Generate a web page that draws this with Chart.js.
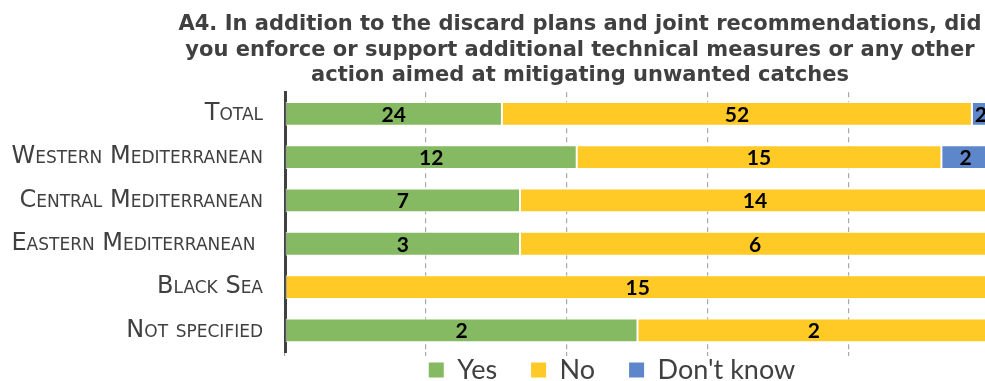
<!DOCTYPE html>
<html lang="en">
<head>
  <meta charset="UTF-8" />
  <title>A4 - Additional technical measures</title>
  <style>
    html, body {
      margin: 0;
      padding: 0;
      width: 985px;
      height: 381px;
      overflow: hidden;
      background: #fff;
    }
    #chart {
      display: block;
    }
  </style>
  <script src="https://cdn.jsdelivr.net/npm/chart.js"></script>
</head>
<body>
  <canvas id="chart" width="1000" height="427"></canvas>
  <script>
    const categories = ['Total', 'Western Mediterranean', 'Central Mediterranean', 'Eastern Mediterranean ', 'Black Sea', 'Not specified'];
    const yesCounts = [24, 12, 7, 3, 0, 2];
    const noCounts = [52, 15, 14, 6, 15, 2];
    const dontKnowCounts = [2, 2, 0, 0, 0, 0];
    const seriesNames = ['Yes', 'No', "Don't know"];
    const seriesColors = ['#85b962', '#ffc926', '#5e86ca'];
    const titleLines = [
      'A4. In addition to the discard plans and joint recommendations, did',
      'you enforce or support additional technical measures or any other',
      'action aimed at mitigating unwanted catches'
    ];

    const allCounts = [yesCounts, noCounts, dontKnowCounts];
    const rowTotals = categories.map((_, i) => allCounts.reduce((s, arr) => s + arr[i], 0));
    const toShare = arr => arr.map((v, i) => v / rowTotals[i] * 100);

    // write the answer counts in the middle of each segment
    const countLabels = {
      id: 'countLabels',
      afterDatasetsDraw(chart) {
        const ctx = chart.ctx;
        ctx.save();
        ctx.font = 'bold 21px Lato';
        ctx.fillStyle = '#000';
        ctx.textAlign = 'center';
        ctx.textBaseline = 'middle';
        chart.data.datasets.forEach((ds, d) => {
          chart.getDatasetMeta(d).data.forEach((bar, i) => {
            const n = ds.counts[i];
            if (!n) return;
            ctx.fillText(String(n), (bar.x + bar.base) / 2, bar.y + 1);
          });
        });
        ctx.restore();
      }
    };

    // move title and legend off the canvas centre
    const nudge = {
      id: 'nudge',
      afterLayout(chart) {
        const t = chart.titleBlock;
        const tdx = 580 - (t.left + t.right) / 2;
        t.left += tdx; t.right += tdx;
        const lg = chart.legend;
        const pad = lg.options.labels.padding;
        const ldx = 612 - (lg.left + lg.right) / 2;
        const ldy = 370 - (lg.top + pad + 13.5);
        lg.left += ldx; lg.right += ldx;
        lg.top += ldy; lg.bottom += ldy;
      }
    };

    new Chart(document.getElementById('chart'), {
      type: 'bar',
      data: {
        labels: categories,
        datasets: allCounts.map((counts, k) => ({
          label: seriesNames[k],
          data: toShare(counts),
          counts: counts,
          backgroundColor: seriesColors[k],
          borderColor: 'rgba(255,255,255,0.75)',
          borderWidth: 1,
          borderSkipped: false,
          barPercentage: 0.55,
          categoryPercentage: 1
        }))
      },
      options: {
        indexAxis: 'y',
        responsive: false,
        animation: false,
        layout: { padding: { left: 0, right: 10, top: 0, bottom: 0 } },
        scales: {
          x: {
            stacked: true,
            min: 0,
            max: 100,
            ticks: { display: false, stepSize: 20 },
            grid: {
              color: '#a8a8a8',
              lineWidth: 1.2,
              drawTicks: true,
              tickLength: 4,
              tickColor: '#a8a8a8',
              tickBorderDash: [5, 4]
            },
            border: { display: false, dash: [5, 4] }
          },
          y: {
            stacked: true,
            afterFit(scale) { scale.width = 285; },
            grid: { display: false, drawTicks: false },
            border: { display: true, color: '#404040', width: 3 },
            ticks: {
              color: '#404040',
              padding: 22,
              font: { family: 'DejaVu Sans', size: 24, weight: 'small-caps' }
            }
          }
        },
        plugins: {
          title: {
            display: true,
            text: titleLines,
            color: '#404040',
            font: { family: 'DejaVu Sans', size: 21, weight: 'bold', lineHeight: 1.21 },
            padding: { top: 12, bottom: 4 }
          },
          legend: {
            position: 'bottom',
            labels: {
              color: '#404040',
              boxWidth: 15,
              boxHeight: 15,
              padding: 34,
              font: { family: 'Lato', size: 27 },
              generateLabels(chart) {
                return Chart.defaults.plugins.legend.labels.generateLabels(chart)
                  .map(item => Object.assign(item, { lineWidth: 0 }));
              }
            }
          },
          tooltip: { enabled: false }
        }
      },
      plugins: [countLabels, nudge]
    });
  </script>
</body>
</html>
